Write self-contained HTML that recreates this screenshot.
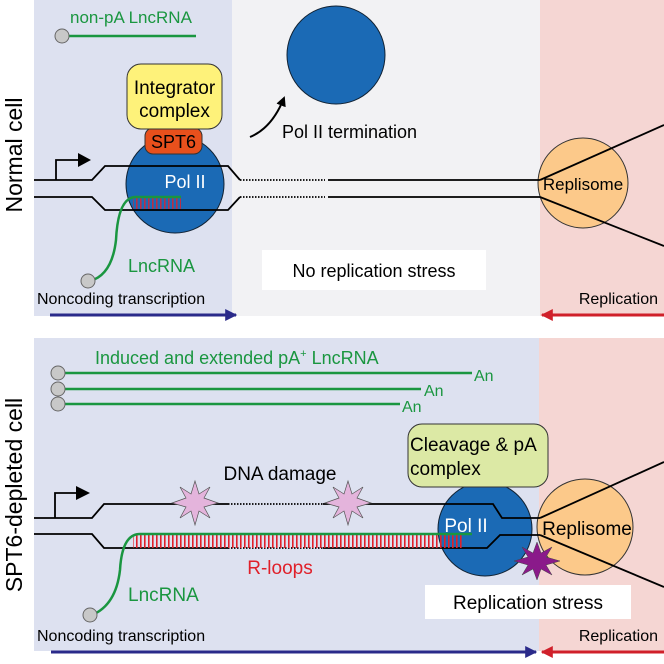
<!DOCTYPE html>
<html><head><meta charset="utf-8"><style>
html,body{margin:0;padding:0;background:#fff}
svg{display:block}
text{font-family:"Liberation Sans",Arial,sans-serif}
</style></head><body>
<svg width="664" height="664" viewBox="0 0 664 664" xmlns="http://www.w3.org/2000/svg">
<defs>
<marker id="ab" viewBox="0 0 10 10" refX="9" refY="5" markerWidth="4" markerHeight="4" orient="auto"><path d="M0,0L10,5L0,10z" fill="#2a2a8a"/></marker>
<marker id="ar" viewBox="0 0 10 10" refX="9" refY="5" markerWidth="4" markerHeight="4" orient="auto"><path d="M0,0L10,5L0,10z" fill="#d0202a"/></marker>
<marker id="ak" viewBox="0 0 10 10" refX="8" refY="5" markerWidth="5" markerHeight="5" orient="auto"><path d="M0,0L10,5L0,10z" fill="#000"/></marker>
<pattern id="rungs" width="4" height="14" patternUnits="userSpaceOnUse"><rect x="0" y="0" width="1.6" height="14" fill="#e0202a"/></pattern>
</defs>
<rect x="34" y="0" width="198" height="316" fill="#dde1f0"/>
<rect x="232" y="0" width="308" height="316" fill="#f2f2f4"/>
<rect x="540" y="0" width="124" height="316" fill="#f5d6d3"/>
<rect x="34" y="338" width="505" height="313" fill="#dde1f0"/>
<rect x="539" y="338" width="125" height="313" fill="#f5d6d3"/>

<text transform="translate(22,155) rotate(-90)" font-size="23" text-anchor="middle">Normal cell</text>
<text transform="translate(22,495) rotate(-90)" font-size="23" text-anchor="middle">SPT6-depleted cell</text>

<text x="70" y="23" font-size="17" fill="#1a9640">non-pA LncRNA</text>
<line x1="62" y1="36" x2="196" y2="36" stroke="#1a9640" stroke-width="2.5"/>
<circle cx="62" cy="36" r="7" fill="#c8c8c8" stroke="#666"/>

<circle cx="336" cy="55" r="49" fill="#1b6ab5" stroke="#123"/>
<path d="M250,137 Q272,128 284,98" fill="none" stroke="#000" stroke-width="2" marker-end="url(#ak)"/>
<text x="282" y="138" font-size="18">Pol II termination</text>

<circle cx="583" cy="183" r="45" fill="#fcc98a" stroke="#333"/>
<circle cx="175" cy="184" r="49" fill="#1b6ab5" stroke="#123"/>
<rect x="145" y="128" width="57" height="26" rx="8" fill="#e8501c" stroke="#333"/>
<rect x="127" y="64" width="95" height="65" rx="14" fill="#fef27a" stroke="#333"/>
<text x="174.5" y="94" font-size="19" text-anchor="middle">Integrator</text>
<text x="174.5" y="117" font-size="19" text-anchor="middle">complex</text>
<text x="173.5" y="148" font-size="18" text-anchor="middle">SPT6</text>
<text x="185" y="188" font-size="18" fill="#fff" text-anchor="middle">Pol II</text>

<path d="M34,180 H92 L105,166 H228 L240,180" fill="none" stroke="#000" stroke-width="1.8"/>
<path d="M34,197 H92 L105,210 H228 L240,197" fill="none" stroke="#000" stroke-width="1.8"/>
<line x1="240" y1="180" x2="325" y2="180" stroke="#000" stroke-width="1.8" stroke-dasharray="1.5,1.5"/>
<line x1="240" y1="197" x2="325" y2="197" stroke="#000" stroke-width="1.8" stroke-dasharray="1.5,1.5"/>
<line x1="328" y1="180" x2="540" y2="180" stroke="#000" stroke-width="1.8"/>
<line x1="328" y1="197" x2="540" y2="197" stroke="#000" stroke-width="1.8"/>
<line x1="540" y1="180" x2="664" y2="125" stroke="#000" stroke-width="1.8"/>
<line x1="540" y1="197" x2="664" y2="246" stroke="#000" stroke-width="1.8"/>
<text x="583" y="190" font-size="17" text-anchor="middle">Replisome</text>
<path d="M56,180 V160 H82" fill="none" stroke="#000" stroke-width="1.8"/>
<path d="M78,153 L91,160 L78,167z" fill="#000"/>
<rect x="133" y="198" width="48" height="11" fill="url(#rungs)" opacity="0.8"/>
<path d="M90,281 Q112,275 116,240 Q118,198 135,197 H181" fill="none" stroke="#1a9640" stroke-width="2.5"/>
<circle cx="88" cy="281" r="7" fill="#c8c8c8" stroke="#666"/>
<text x="128" y="272" font-size="18" fill="#1a9640">LncRNA</text>

<rect x="262" y="250" width="224" height="40" fill="#fff"/>
<text x="374" y="277" font-size="18" text-anchor="middle">No replication stress</text>

<text x="37" y="304" font-size="16">Noncoding transcription</text>
<text x="658" y="304" font-size="16" text-anchor="end">Replication</text>
<line x1="50" y1="315" x2="236" y2="315" stroke="#2a2a8a" stroke-width="3" marker-end="url(#ab)"/>
<line x1="664" y1="315" x2="542" y2="315" stroke="#d0202a" stroke-width="3" marker-end="url(#ar)"/>

<text x="95" y="364" font-size="18" fill="#1a9640">Induced and extended pA<tspan font-size="11" dy="-7">+</tspan><tspan dy="7"> LncRNA</tspan></text>
<line x1="58" y1="373" x2="472" y2="373" stroke="#1a9640" stroke-width="2.5"/>
<line x1="58" y1="389" x2="421" y2="389" stroke="#1a9640" stroke-width="2.5"/>
<line x1="58" y1="404" x2="400" y2="404" stroke="#1a9640" stroke-width="2.5"/>
<circle cx="58" cy="373" r="7" fill="#c8c8c8" stroke="#666"/>
<circle cx="58" cy="389" r="7" fill="#c8c8c8" stroke="#666"/>
<circle cx="58" cy="404" r="7" fill="#c8c8c8" stroke="#666"/>
<text x="474" y="381" font-size="16" fill="#1a9640">An</text>
<text x="424" y="396" font-size="16" fill="#1a9640">An</text>
<text x="402" y="412" font-size="16" fill="#1a9640">An</text>

<circle cx="585" cy="527" r="48" fill="#fcc98a" stroke="#333"/>
<circle cx="485" cy="529" r="47" fill="#1b6ab5" stroke="#123"/>
<rect x="408" y="424" width="140" height="63" rx="14" fill="#dce9a5" stroke="#333"/>
<text x="410" y="451" font-size="19">Cleavage &amp; pA</text>
<text x="410" y="475" font-size="19">complex</text>
<text x="466" y="532" font-size="19" fill="#fff" text-anchor="middle">Pol II</text>

<path d="M34,518 H92 L104,504 H228" fill="none" stroke="#000" stroke-width="1.8"/>
<line x1="228" y1="504" x2="323" y2="504" stroke="#000" stroke-width="1.8" stroke-dasharray="1.5,1.5"/>
<path d="M323,504 H493 L502,518 H540" fill="none" stroke="#000" stroke-width="1.8"/>
<path d="M34,534 H92 L104,548 H228" fill="none" stroke="#000" stroke-width="1.8"/>
<line x1="228" y1="548" x2="323" y2="548" stroke="#000" stroke-width="1.8" stroke-dasharray="1.5,1.5"/>
<path d="M323,548 H487 L500,535 H540" fill="none" stroke="#000" stroke-width="1.8"/>
<line x1="540" y1="518" x2="664" y2="462" stroke="#000" stroke-width="1.8"/>
<line x1="540" y1="535" x2="664" y2="587" stroke="#000" stroke-width="1.8"/>
<text x="587" y="535" font-size="19" text-anchor="middle">Replisome</text>
<path d="M55,518 V493 H80" fill="none" stroke="#000" stroke-width="1.8"/>
<path d="M76,486 L90,493 L76,500z" fill="#000"/>

<rect x="133" y="535" width="330" height="13" fill="url(#rungs)"/>
<path d="M92,615 Q116,605 120,570 Q122,534 140,534 H472" fill="none" stroke="#1a9640" stroke-width="2.5"/>
<circle cx="90" cy="615" r="7" fill="#c8c8c8" stroke="#666"/>
<text x="128" y="601" font-size="19" fill="#1a9640">LncRNA</text>
<text x="280" y="574" font-size="19" fill="#e0202a" text-anchor="middle">R-loops</text>
<text x="280" y="480" font-size="19" text-anchor="middle">DNA damage</text>

<polygon points="195,481 199,494 210,487 204,498 218,503 204,507 210,518 199,511 195,525 191,511 180,518 186,507 172,503 186,498 180,487 191,494" fill="#e4b4dc" stroke="#555" stroke-width="0.7"/>
<polygon points="348,481 352,494 363,487 357,498 371,503 357,507 363,518 352,511 348,525 344,511 333,518 339,507 325,503 339,498 333,487 344,494" fill="#e4b4dc" stroke="#555" stroke-width="0.7"/>
<polygon points="537,542 541,553 552,547 546,557 560,561 546,565 552,575 541,569 537,580 533,569 522,575 528,565 514,561 528,557 522,547 533,553" fill="#8a1a8a" stroke="#444" stroke-width="0.5"/>

<rect x="425" y="585" width="206" height="34" fill="#fff"/>
<text x="528" y="609" font-size="19" text-anchor="middle">Replication stress</text>

<text x="37" y="641" font-size="16">Noncoding transcription</text>
<text x="658" y="641" font-size="16" text-anchor="end">Replication</text>
<line x1="51" y1="652" x2="536" y2="652" stroke="#2a2a8a" stroke-width="3" marker-end="url(#ab)"/>
<line x1="664" y1="652" x2="542" y2="652" stroke="#d0202a" stroke-width="3" marker-end="url(#ar)"/>
</svg>
</body></html>
